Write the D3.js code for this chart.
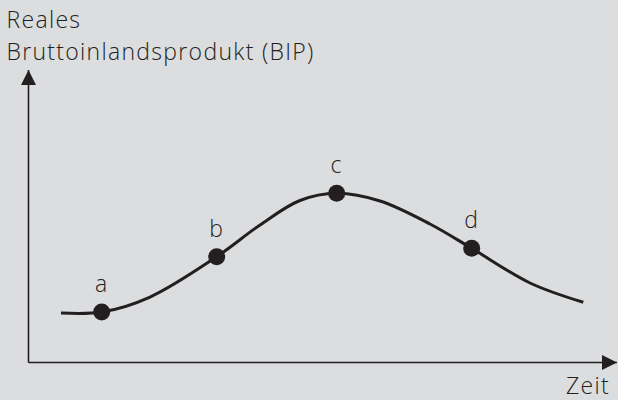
<!DOCTYPE html>
<html><head><meta charset="utf-8">
<script src="https://cdn.jsdelivr.net/npm/d3@7"></script>
<style>body{margin:0;background:#dcdddf}svg{display:block}</style>
</head><body>
<script>
const time = [5.52, 12.44, 20.65, 31.98, 39.34, 46.13, 52.37, 59.73, 68.22, 75.31, 85.22, 94.27];
const gdp  = [16.92, 17.26, 22.39, 36.17, 47.01, 55.38, 57.85, 55.21, 47.35, 39.04, 27.18, 20.58];
const pointLabels = ["a", "b", "c", "d"];
const pointIdx = [1, 3, 6, 9];
const yTitle = ["Reales", "Bruttoinlandsprodukt (BIP)"];
const xTitle = "Zeit";

const W = 618, H = 400;
const ink = "#231f20";
const font = "'Open Sans', sans-serif";
const svg = d3.select("body").append("svg").attr("width", W).attr("height", H);
svg.append("rect").attr("width", W).attr("height", H).attr("fill", "#dcdddf");

const x = d3.scaleLinear().domain([0, 100]).range([28.5, 617]);
const y = d3.scaleLinear().domain([0, 100]).range([362.5, 70]);

const defs = svg.append("defs");
defs.append("marker").attr("id", "arr").attr("viewBox", "0 0 10 10")
  .attr("refX", 10).attr("refY", 5).attr("markerWidth", 18).attr("markerHeight", 15)
  .attr("markerUnits", "userSpaceOnUse").attr("orient", "auto")
  .append("path").attr("d", "M0,0 L10,5 L0,10 Z").attr("fill", ink);

// axes
svg.append("line").attr("x1", x(0)).attr("y1", y(0)).attr("x2", x(0)).attr("y2", y(100))
  .attr("stroke", ink).attr("stroke-width", 1.6).attr("marker-end", "url(#arr)");
svg.append("line").attr("x1", x(0)).attr("y1", y(0)).attr("x2", x(100)).attr("y2", y(0))
  .attr("stroke", ink).attr("stroke-width", 1.6).attr("marker-end", "url(#arr)");

const data = time.map((t, i) => ({t, v: gdp[i]}));
const line = d3.line().x(d => x(d.t)).y(d => y(d.v)).curve(d3.curveCatmullRom.alpha(0.5));
svg.append("path").datum(data).attr("d", line).attr("fill", "none")
  .attr("stroke", ink).attr("stroke-width", 3);

const txt = (sel) => sel.attr("font-family", font).attr("font-size", 23).attr("font-weight", 300)
  .attr("letter-spacing", "1.3px").attr("fill", ink);

pointIdx.forEach((k, i) => {
  const d = data[k];
  svg.append("circle").attr("cx", x(d.t)).attr("cy", y(d.v)).attr("r", 8.5).attr("fill", ink);
  svg.append("text").attr("x", x(d.t)).attr("y", y(d.v) - 20).attr("text-anchor", "middle")
    .call(txt).text(pointLabels[i]);
});

svg.append("text").attr("x", 6.5).attr("y", 28).call(txt).text(yTitle[0]);
svg.append("text").attr("x", 6.5).attr("y", 60).call(txt).text(yTitle[1]);
svg.append("text").attr("x", 610).attr("y", 394).attr("text-anchor", "end").call(txt).text(xTitle);
</script>
</body></html>
